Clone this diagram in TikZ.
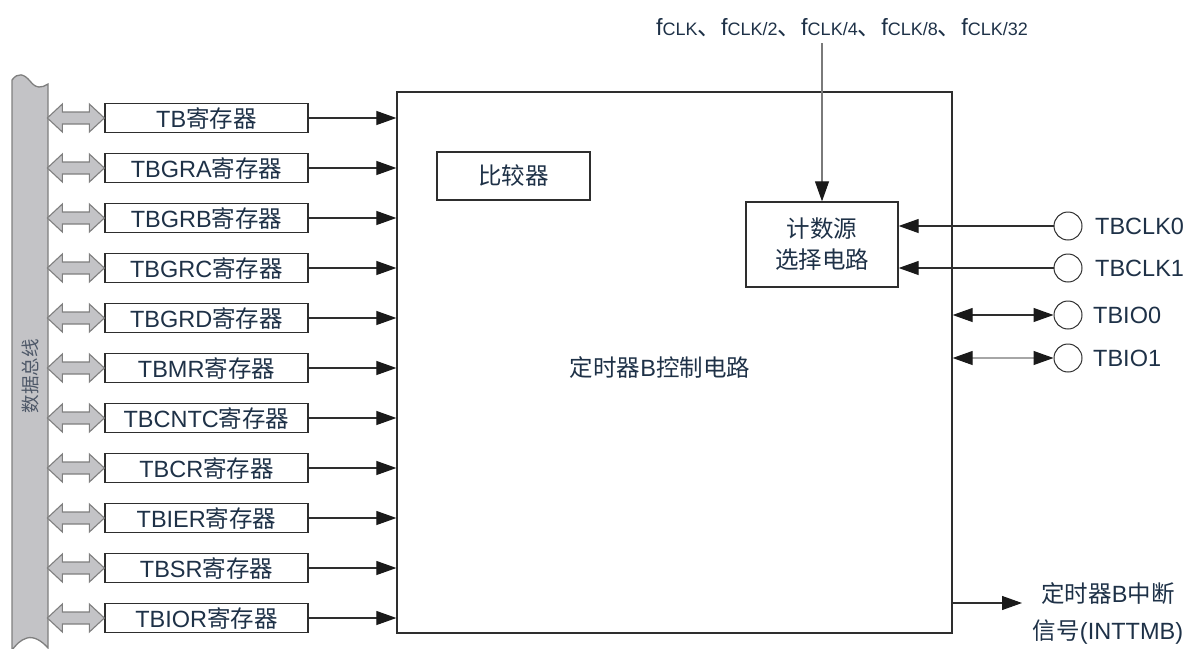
\documentclass[tikz,border=0pt]{standalone}
\usepackage{fontspec}
\setmainfont{Liberation Sans}
\newfontfamily\cjk{Noto Sans CJK SC}
\usetikzlibrary{arrows.meta}
\newcommand\zh[1]{{\cjk #1}}
\definecolor{txt}{HTML}{1E3147}
\definecolor{ln}{HTML}{2E2E2E}
\definecolor{tip}{HTML}{1A1A1A}
\definecolor{busfill}{HTML}{C3C3C6}
\definecolor{busline}{HTML}{7F7F7F}
\definecolor{lightln}{HTML}{A6A6A6}
\definecolor{midln}{HTML}{7A7A7A}
\definecolor{bustxt}{HTML}{4E5868}
\begin{document}
\begin{tikzpicture}[x=1pt,y=-1pt,
  every node/.style={text=txt, font=\fontsize{23.5}{31}\selectfont},
  reg/.style={draw=ln, line width=1.3pt, minimum width=203pt, minimum height=29pt, inner sep=0pt},
  blk/.style={draw=ln, line width=1.3pt, inner sep=0pt},
  pin/.style={circle, draw=ln, line width=1pt, minimum size=28pt, inner sep=0pt},
  conn/.style={draw=ln, line width=1.1pt, -{Triangle[length=20pt,width=14pt,color=tip]}},
  biconn/.style={draw=ln, line width=1.1pt, {Triangle[length=20pt,width=14pt,color=tip]}-{Triangle[length=20pt,width=14pt,color=tip]}},
  busarrow/.style={fill=busfill, draw=busline, line width=1.1pt, line join=miter},
  lbl/.style={anchor=west, inner sep=0pt},
  sub/.style={}
]
\useasboundingbox (0,0) rectangle (1191,648);
% data bus
\filldraw[fill=busfill, draw=busline, line width=1.3pt]
  (12,80) .. controls (18,72) and (24,74) .. (30,81)
  .. controls (36,89) and (42,88) .. (48,84) -- (48,648)
  .. controls (42,641) and (34,636) .. (27,638)
  .. controls (20,640) and (16,645) .. (12,650) -- cycle;
\node[rotate=90, text=bustxt, font=\fontsize{18.5}{20}\selectfont] (buslbl) at (30,376) {\zh{数据总线}};
% main block
\node[blk, minimum width=555pt, minimum height=541pt] (main) at (674.5,362.5) {};
\node (mainlbl) at (660,368) {\zh{定时器}B\zh{控制电路}};
\node[blk, minimum width=153pt, minimum height=48pt] (cmp) at (513.5,176) {\zh{比较器}};
\node[blk, minimum width=152pt, minimum height=85pt, align=center] (cs) at (822,244.5) {\zh{计数源}\\\zh{选择电路}};
% registers
\foreach \nm [count=\i from 0] in {TB,TBGRA,TBGRB,TBGRC,TBGRD,TBMR,TBCNTC,TBCR,TBIER,TBSR,TBIOR}{
  \node[reg] (r\i) at (206.5,118+50*\i) {\nm\zh{寄存器}};
  \filldraw[busarrow] (r\i.west) ++(-57,0) -- ++(15,-14) -- ++(0,8) -- ++(27,0) -- ++(0,-8)
     -- ++(15,14) -- ++(-15,14) -- ++(0,-8) -- ++(-27,0) -- ++(0,8) -- cycle;
  \draw[conn] (r\i.east) -- (r\i.east -| main.west);
}
% clock source
\node (fclk) at (842,28) {f{\fontsize{18}{20}\selectfont CLK}\zh{、}f{\fontsize{18}{20}\selectfont CLK/2}\zh{、}f{\fontsize{18}{20}\selectfont CLK/4}\zh{、}f{\fontsize{18}{20}\selectfont CLK/8}\zh{、}f{\fontsize{18}{20}\selectfont CLK/32}};
\coordinate (fsrc) at (822,43);
\draw[conn, draw=midln] (fsrc) -- (cs.north);
% pins
\node[pin] (c0) at (1068,226) {};
\node[pin] (c1) at (1068,268) {};
\node[pin] (io0) at (1068,315) {};
\node[pin] (io1) at (1068,358) {};
\node[lbl] (c0l) at (1095,226) {TBCLK0};
\node[lbl] (c1l) at (1095,268) {TBCLK1};
\node[lbl] (io0l) at (1093,315) {TBIO0};
\node[lbl] (io1l) at (1093,358) {TBIO1};
\draw[conn] (c0.west) -- (cs.east |- c0.west);
\draw[conn] (c1.west) -- (cs.east |- c1.west);
\draw[biconn] (main.east |- io0.west) -- (io0.west);
\draw[biconn, draw=lightln] (main.east |- io1.west) -- (io1.west);
% interrupt
\coordinate (intend) at (1022,603);
\draw[conn] (main.east |- intend) -- (intend);
\node[align=center, font=\fontsize{23.5}{37}\selectfont] (intlbl) at (1108,613) {\zh{定时器}B\zh{中断}\\\zh{信号}(INTTMB)};
\end{tikzpicture}
\end{document}
